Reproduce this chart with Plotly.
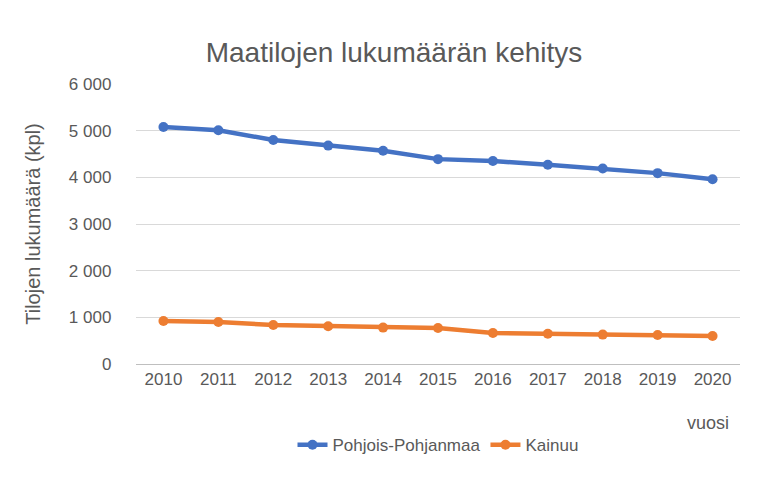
import plotly.graph_objects as go

years = [str(y) for y in range(2010, 2021)]
pohjois = [5080, 5010, 4800, 4680, 4570, 4390, 4350, 4270, 4190, 4090, 3960]
kainuu = [920, 900, 835, 810, 780, 770, 665, 650, 630, 620, 600]

font = "Liberation Sans"
fig = go.Figure()
fig.add_trace(go.Scatter(x=years, y=pohjois, name="Pohjois-Pohjanmaa", mode="lines+markers",
                         line=dict(color="#4472C4", width=4.5), marker=dict(size=10, color="#4472C4")))
fig.add_trace(go.Scatter(x=years, y=kainuu, name="Kainuu", mode="lines+markers",
                         line=dict(color="#ED7D31", width=4.5), marker=dict(size=10, color="#ED7D31")))
fig.update_layout(
    width=772, height=493, paper_bgcolor="white", plot_bgcolor="white",
    margin=dict(l=128, r=40, t=76, b=137, autoexpand=False),
    separators=". ",
    font=dict(family=font, size=17, color="#595959"),
    title=dict(text="Maatilojen lukumäärän kehitys", x=0.5, xanchor="center", y=0.91, yanchor="middle",
               font=dict(size=28, color="#595959")),
    xaxis=dict(type="category", range=[-0.5, 10.5], showgrid=False, showline=True, linecolor="#BFBFBF",
               ticks="", tickfont=dict(size=17, color="#595959")),
    yaxis=dict(range=[0, 6000], dtick=1000, tickformat=",d", gridcolor="#D9D9D9", zeroline=False,
               showline=False, ticksuffix="     ",
               title=dict(text="Tilojen lukumäärä (kpl)", font=dict(size=20, color="#595959"), standoff=22)),
    legend=dict(orientation="h", x=0.5, xanchor="center", y=-0.29, yanchor="middle",
                font=dict(size=17, color="#595959")),
    annotations=[dict(text="vuosi", xref="paper", yref="paper", x=0.985, y=-0.21, xanchor="right",
                      yanchor="middle", showarrow=False, font=dict(size=18, color="#595959"))],
)
fig.write_html("out.html")
